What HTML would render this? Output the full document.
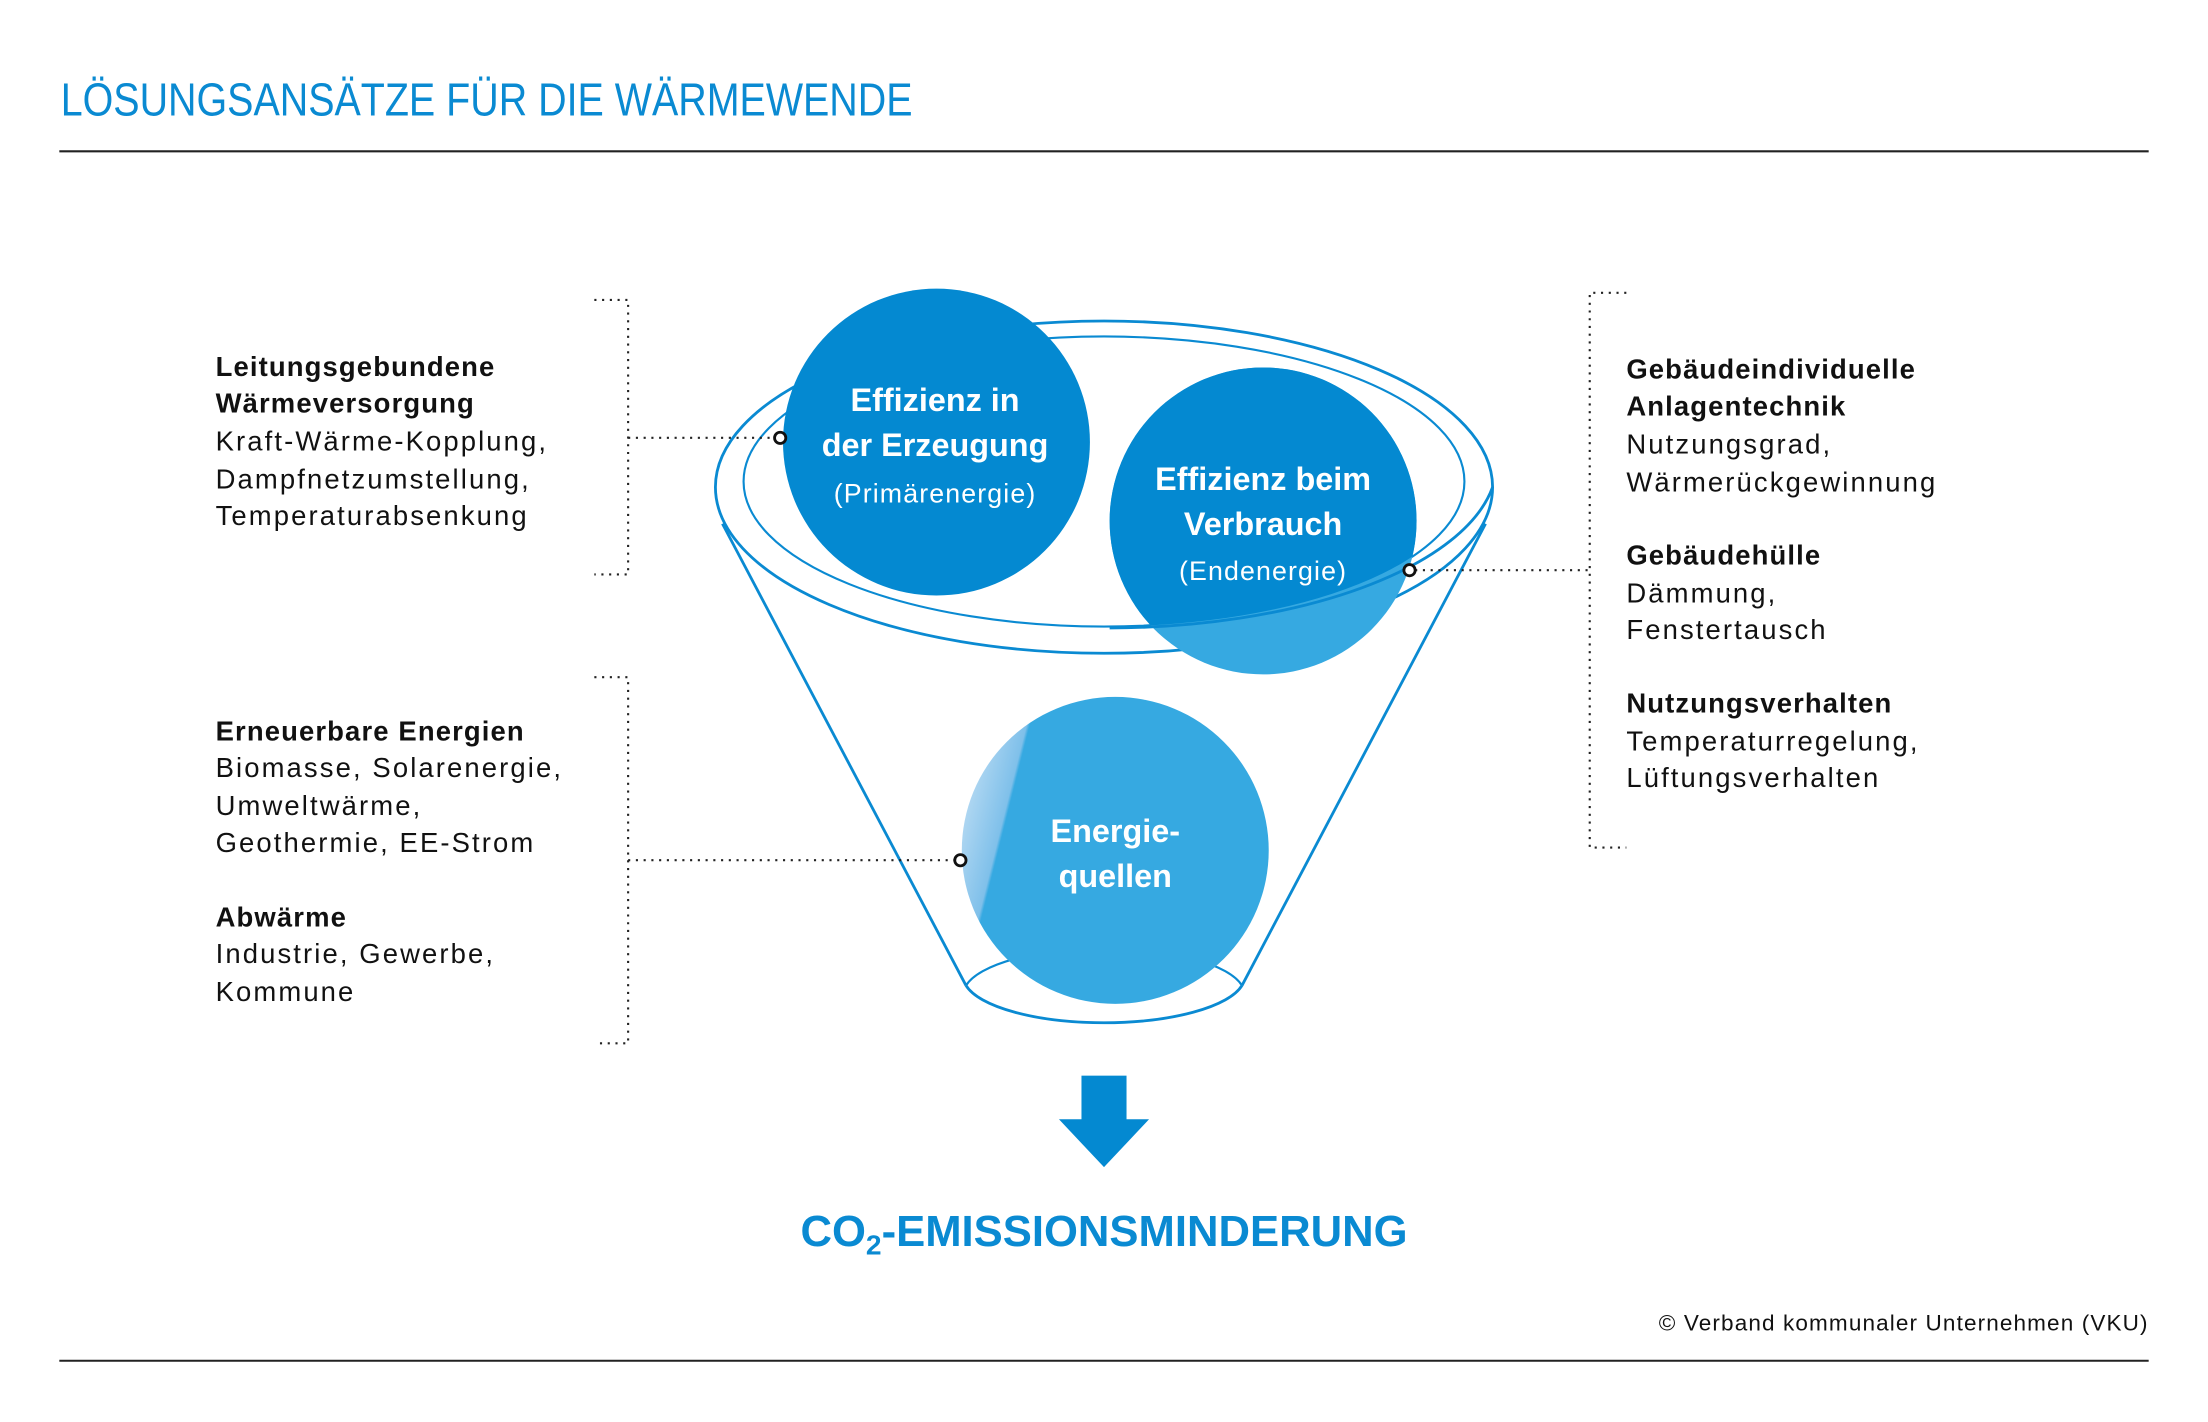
<!DOCTYPE html>
<html><head><meta charset="utf-8"><style>
html,body{margin:0;padding:0;background:#fff;}
svg{display:block;}
text{font-family:"Liberation Sans",sans-serif;}
</style></head><body>
<svg width="2208" height="1422" viewBox="0 0 1568 1010" xmlns="http://www.w3.org/2000/svg">
<defs>
<clipPath id="cdark"><path d="M0 0H1568V342H0Z"/><ellipse cx="784" cy="342" rx="256" ry="103"/></clipPath>
<linearGradient id="g3" x1="0" y1="0" x2="1" y2="0.25">
<stop offset="0" stop-color="#d6e9f8"/><stop offset="0.22" stop-color="#7fc0ea"/><stop offset="0.23" stop-color="#36a9e1"/><stop offset="1" stop-color="#36a9e1"/></linearGradient>
</defs>
<text x="43" y="82" font-size="33" fill="#0a8ad2" textLength="605" lengthAdjust="spacingAndGlyphs">LÖSUNGSANSÄTZE FÜR DIE WÄRMEWENDE</text>
<line x1="42" y1="107.5" x2="1526" y2="107.5" stroke="#222" stroke-width="1.5"/>
<line x1="42" y1="966.5" x2="1526" y2="966.5" stroke="#222" stroke-width="1.5"/>

<g fill="none" stroke="#0a8ad2" stroke-width="2">
<ellipse cx="784" cy="346" rx="276" ry="118"/>
<ellipse cx="784" cy="342" rx="256" ry="103" stroke-width="1.5"/>
<line x1="513" y1="372" x2="686" y2="700"/>
<line x1="1055" y1="372" x2="882" y2="700"/>
<path d="M686 700 A100 33 0 0 0 882 700" />
<path d="M686 700 A100 33 0 0 1 882 700" stroke-width="1.5"/>
</g>

<circle cx="665" cy="314" r="109" fill="#0489d1"/>
<circle cx="897" cy="370" r="109" fill="#36a9e1"/>
<circle cx="897" cy="370" r="109" fill="#0489d1" clip-path="url(#cdark)"/>
<path d="M788 446 A276 118 0 0 0 1060 346" fill="none" stroke="#0a8ad2" stroke-width="2"/>
<circle cx="792" cy="604" r="109" fill="url(#g3)"/>

<g fill="#fff" font-weight="bold" font-size="23" text-anchor="middle">
<text x="664" y="292">Effizienz in</text>
<text x="664" y="324">der Erzeugung</text>
<text x="664" y="357" font-weight="normal" font-size="19" letter-spacing="0.8">(Primärenergie)</text>
<text x="897" y="348">Effizienz beim</text>
<text x="897" y="380">Verbrauch</text>
<text x="897" y="412" font-weight="normal" font-size="19" letter-spacing="0.8">(Endenergie)</text>
<text x="792" y="598">Energie-</text>
<text x="792" y="630">quellen</text>
</g>

<g fill="none" stroke="#222" stroke-width="1.5" stroke-dasharray="1.5 4">
<path d="M422 213H446V408H422"/>
<path d="M446 311H550"/>
<path d="M422 481H446V741H422"/>
<path d="M446 611H678"/>
<path d="M1155 208H1129V602H1155"/>
<path d="M1005 405H1129"/>
</g>
<g fill="#fff" stroke="#111" stroke-width="2">
<circle cx="554" cy="311" r="4"/><circle cx="682" cy="611" r="4"/><circle cx="1001" cy="405" r="4"/>
</g>

<g font-size="19.5" fill="#111" letter-spacing="1.5">
<text x="153" y="267" font-weight="bold" letter-spacing="0.8">Leitungsgebundene</text>
<text x="153" y="293" font-weight="bold" letter-spacing="0.8">Wärmeversorgung</text>
<text x="153" y="320">Kraft-Wärme-Kopplung,</text>
<text x="153" y="347">Dampfnetzumstellung,</text>
<text x="153" y="373">Temperaturabsenkung</text>
<text x="153" y="526" font-weight="bold" letter-spacing="0.8">Erneuerbare Energien</text>
<text x="153" y="552">Biomasse, Solarenergie,</text>
<text x="153" y="579">Umweltwärme,</text>
<text x="153" y="605">Geothermie, EE-Strom</text>
<text x="153" y="658" font-weight="bold" letter-spacing="0.8">Abwärme</text>
<text x="153" y="684">Industrie, Gewerbe,</text>
<text x="153" y="711">Kommune</text>
<text x="1155" y="269" font-weight="bold" letter-spacing="0.8">Gebäudeindividuelle</text>
<text x="1155" y="295" font-weight="bold" letter-spacing="0.8">Anlagentechnik</text>
<text x="1155" y="322">Nutzungsgrad,</text>
<text x="1155" y="349">Wärmerückgewinnung</text>
<text x="1155" y="401" font-weight="bold" letter-spacing="0.8">Gebäudehülle</text>
<text x="1155" y="428">Dämmung,</text>
<text x="1155" y="454">Fenstertausch</text>
<text x="1155" y="506" font-weight="bold" letter-spacing="0.8">Nutzungsverhalten</text>
<text x="1155" y="533">Temperaturregelung,</text>
<text x="1155" y="559">Lüftungsverhalten</text>
</g>

<rect x="768" y="764" width="32" height="32" fill="#0489d1"/>
<path d="M752 795H816L784 829Z" fill="#0489d1"/>
<text x="784" y="885" font-size="31" font-weight="bold" fill="#0a8ad2" text-anchor="middle">CO<tspan font-size="20" dy="6">2</tspan><tspan dy="-6">-EMISSIONSMINDERUNG</tspan></text>
<text x="1526" y="945" font-size="16" fill="#111" text-anchor="end" letter-spacing="0.8">© Verband kommunaler Unternehmen (VKU)</text>
</svg>
</body></html>
